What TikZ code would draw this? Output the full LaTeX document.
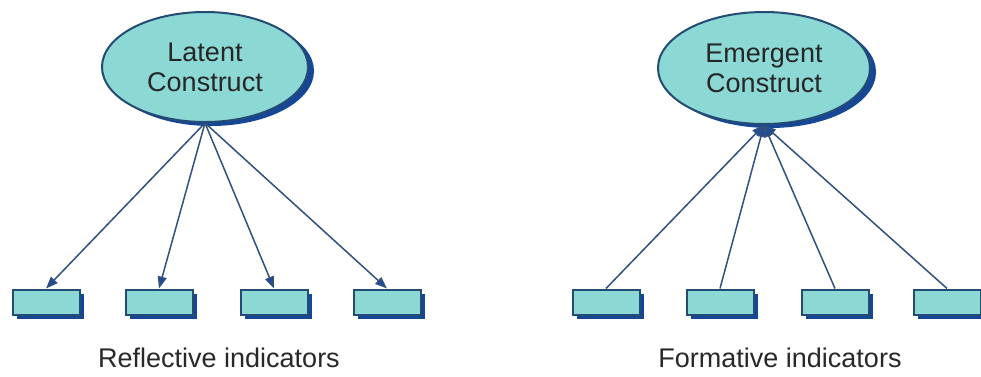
\documentclass[tikz,border=0pt]{standalone}
\usepackage{fontspec}
\setmainfont{Liberation Sans}
\usetikzlibrary{shapes.geometric,arrows.meta,shadows}
\definecolor{boxfill}{RGB}{140,216,212}
\definecolor{edgeblue}{RGB}{35,75,115}
\definecolor{shadeblue}{RGB}{22,70,150}
\definecolor{linkblue}{RGB}{50,80,125}
\definecolor{tipblue}{RGB}{30,75,160}
\definecolor{labelgray}{RGB}{40,40,40}
\tikzset{
  construct/.style={ellipse, draw=edgeblue, line width=2pt, fill=boxfill,
    minimum width=206pt, minimum height=110pt, inner sep=0pt,
    align=center, font=\fontsize{27}{30}\selectfont, text=black!85,
    drop shadow={shadow xshift=6pt, shadow yshift=-4pt, fill=shadeblue, opacity=1}},
  indicator/.style={rectangle, draw=edgeblue, line width=2pt, fill=boxfill,
    minimum width=67pt, minimum height=25pt, inner sep=0pt,
    drop shadow={shadow xshift=4pt, shadow yshift=-4pt, fill=shadeblue, opacity=1}},
  link/.style={draw=linkblue, line width=1.5pt},
  tip/.style={-{Triangle[length=12pt,width=9pt,fill=tipblue]}},
  caption/.style={font=\fontsize{27}{30}\selectfont, text=labelgray, anchor=base}
}
\begin{document}
\begin{tikzpicture}[x=1pt,y=-1pt]
\useasboundingbox[fill=white] (0,0) rectangle (981,376);

% reflective side: construct points to its indicators
\node[construct] (lat) at (205,67) {Latent\\Construct};
\node[indicator] (r1) at (46,302) {};
\node[indicator] (r2) at (159,302) {};
\node[indicator] (r3) at (274,302) {};
\node[indicator] (r4) at (387,302) {};
\foreach \i in {1,...,4}
  \draw[link,tip] (lat.south) -- (r\i.north);
\node[caption] (rcap) at (219,367) {Reflective indicators};

% formative side: indicators point to the construct
\node[construct, minimum width=212pt, minimum height=112pt] (emg) at (764,68) {Emergent\\Construct};
\node[indicator] (f1) at (606,302) {};
\node[indicator] (f2) at (720,302) {};
\node[indicator] (f3) at (835,302) {};
\node[indicator] (f4) at (947,302) {};
\foreach \i in {1,...,4}
  \draw[link,tip] (f\i.north) -- (emg.south);
\node[caption] (fcap) at (780,367) {Formative indicators};
\end{tikzpicture}
\end{document}
